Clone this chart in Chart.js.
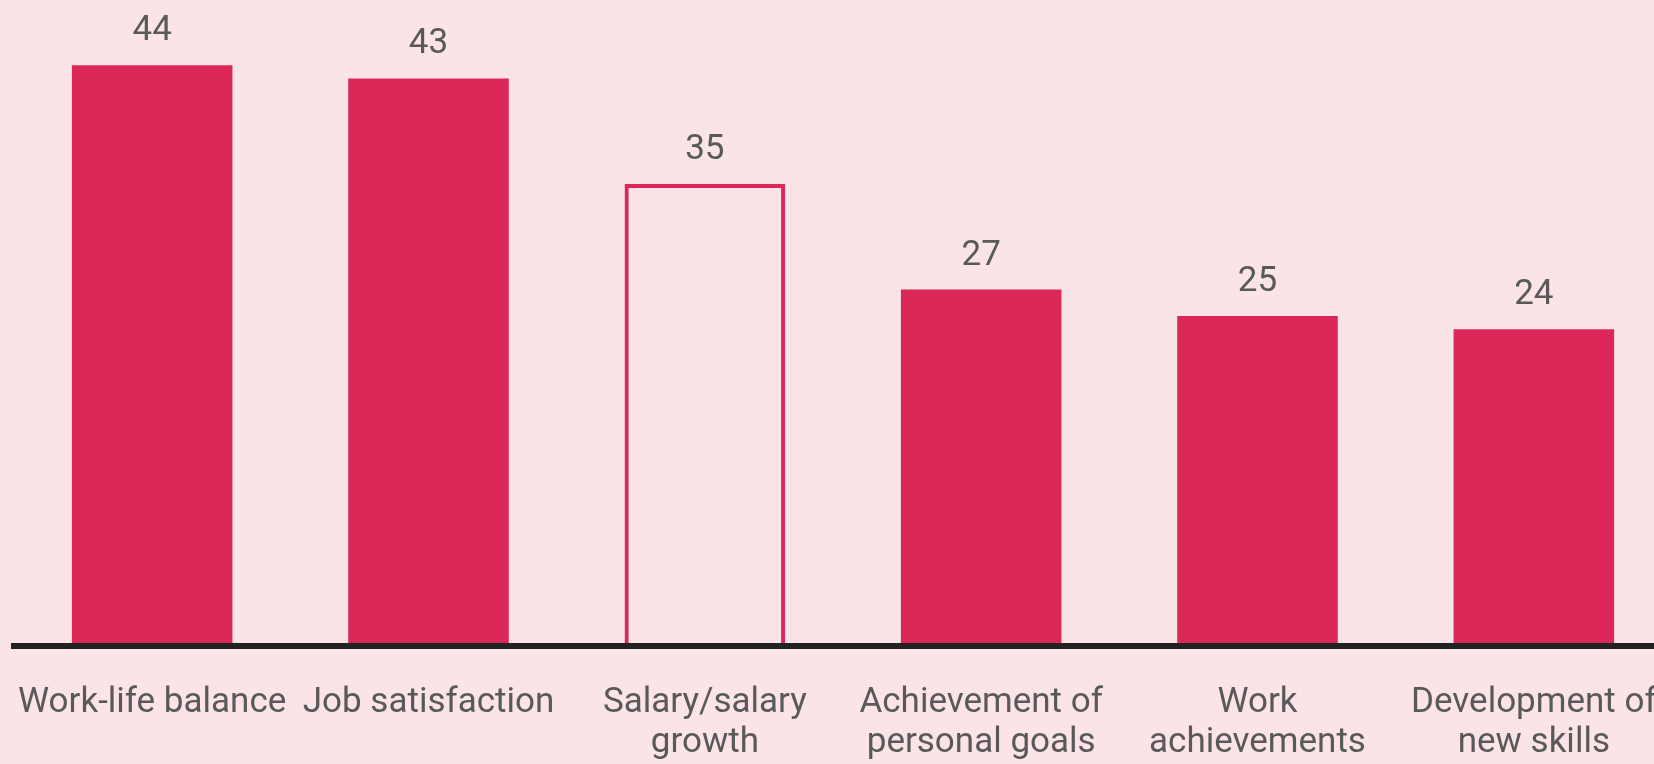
<!DOCTYPE html>
<html>
<head>
<meta charset="utf-8">
<script src="https://cdn.jsdelivr.net/npm/chart.js@4.4.1/dist/chart.umd.min.js"></script>
<style>
  html, body { margin: 0; padding: 0; background: #FBE4E8; overflow: hidden; }
  #wrap { position: absolute; left: 0; top: 0; width: 1672px; height: 764px; }
</style>
</head>
<body>
<div id="wrap"><canvas id="c"></canvas></div>
<script>
// ---- data ----
const categories = [
  ["Work-life balance"],
  ["Job satisfaction"],
  ["Salary/salary", "growth"],
  ["Achievement of", "personal goals"],
  ["Work", "achievements"],
  ["Development of", "new skills"]
];
const values = [44, 43, 35, 27, 25, 24];
const yMin = 0;
const yMax = 48;

// ---- styles ----
const BG = '#FBE4E8';
const BAR = '#DC2858';
const TEXT = '#595959';
const hollowIndex = 2;

const valueLabels = {
  id: 'valueLabels',
  afterDatasetsDraw(chart) {
    const ctx = chart.ctx;
    const meta = chart.getDatasetMeta(0);
    ctx.save();
    ctx.font = '35px Roboto';
    ctx.fillStyle = TEXT;
    ctx.textAlign = 'center';
    ctx.textBaseline = 'alphabetic';
    meta.data.forEach((bar, i) => {
      ctx.fillText(String(chart.data.datasets[0].data[i]), bar.x, bar.y - 25);
    });
    ctx.restore();
  }
};

new Chart(document.getElementById('c'), {
  type: 'bar',
  data: {
    labels: categories,
    datasets: [{
      data: values,
      backgroundColor: values.map((v, i) => i === hollowIndex ? 'rgba(0,0,0,0)' : BAR),
      borderColor: BAR,
      borderWidth: values.map((v, i) => i === hollowIndex ? 4 : 0),
      borderSkipped: 'start',
      categoryPercentage: 1,
      barPercentage: 0.581
    }]
  },
  options: {
    responsive: true,
    maintainAspectRatio: false,
    animation: false,
    layout: { padding: { left: 14, right: 0, top: 12.4, bottom: 0 } },
    plugins: { legend: { display: false }, tooltip: { enabled: false } },
    scales: {
      y: { display: false, min: yMin, max: yMax },
      x: {
        grid: { display: false },
        border: { display: true, color: '#222222', width: 6, z: 1 },
        ticks: {
          font: { family: 'Roboto', size: 35, lineHeight: 1.12 },
          color: TEXT,
          padding: 30,
          maxRotation: 0,
          autoSkip: false
        },
        afterFit(scale) {
          scale.height = 118;
          scale.paddingLeft = 0;
          scale.paddingRight = 0;
        }
      }
    }
  },
  plugins: [valueLabels]
});
</script>
</body>
</html>
